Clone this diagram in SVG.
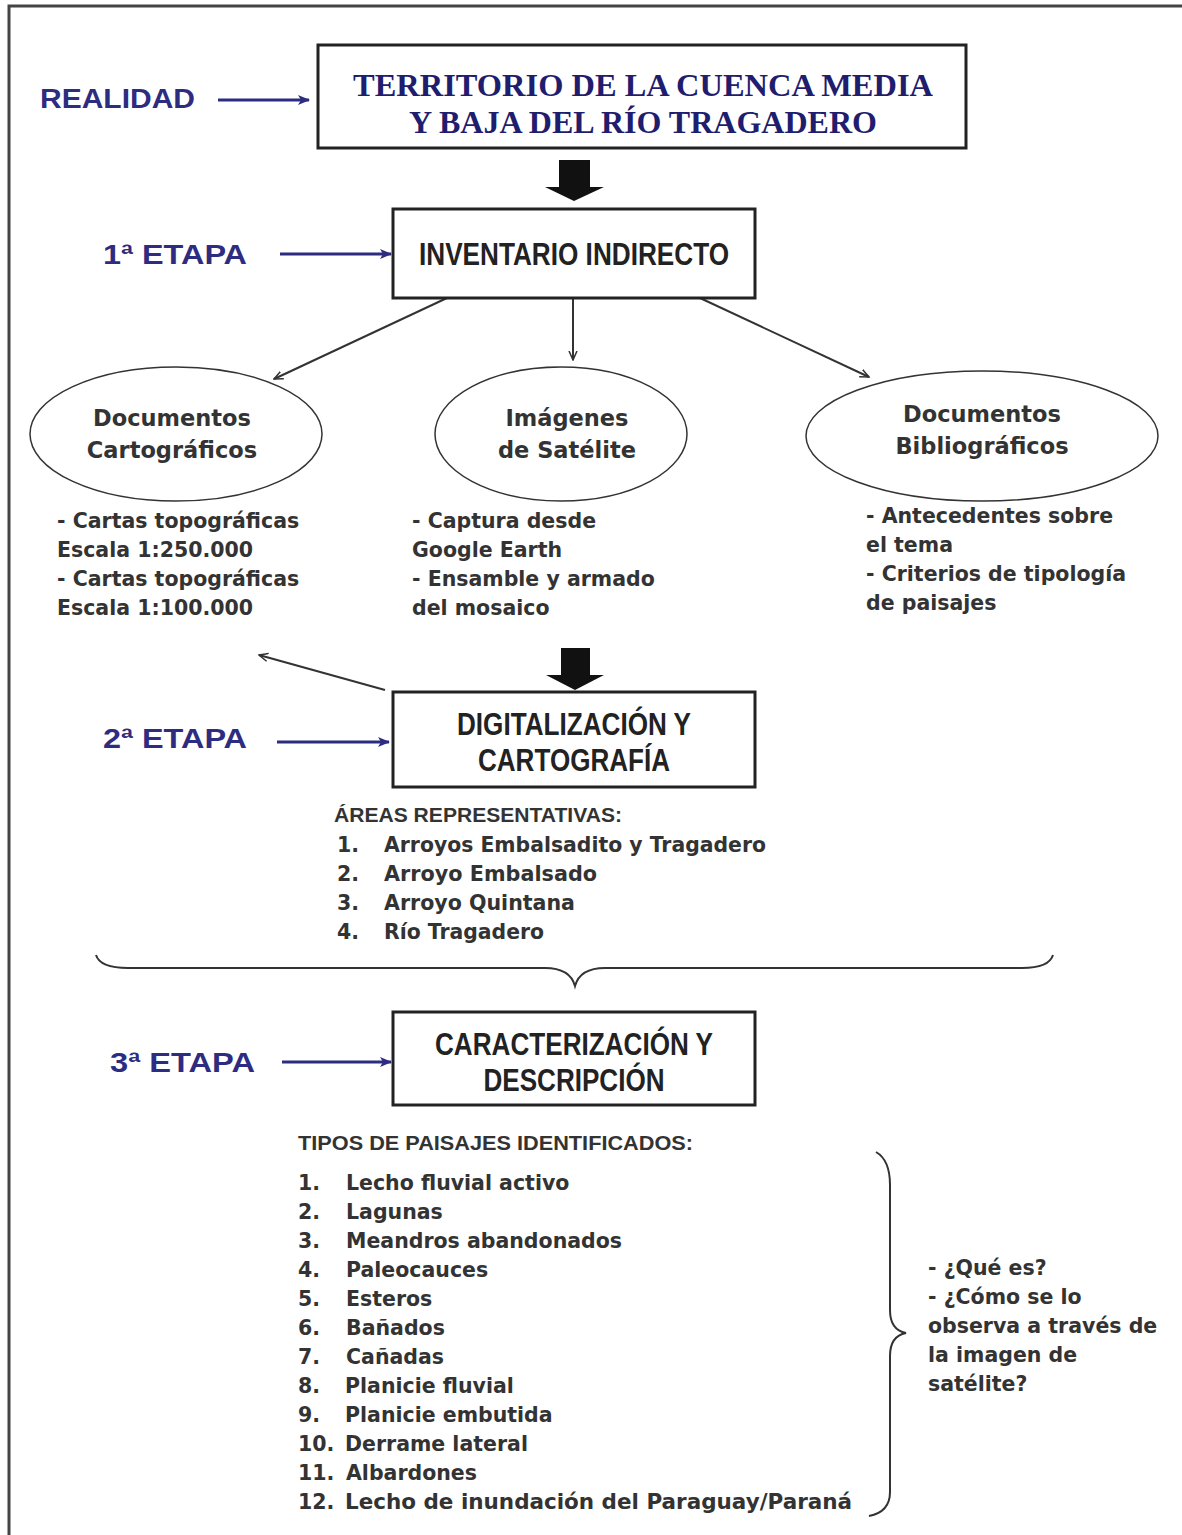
<svg xmlns="http://www.w3.org/2000/svg" width="1182" height="1535" viewBox="0 0 1182 1535">
<defs>
<style>
.frame{fill:none;stroke:#444;stroke-width:3}
.box{fill:#fff;stroke:#222;stroke-width:3}
.ell{fill:#fff;stroke:#333;stroke-width:1.5}
.blk{fill:#111}
.nav{stroke:#2e2c80;stroke-width:3;fill:none}
.thin{stroke:#333;stroke-width:2;fill:none}
.brace{stroke:#333;stroke-width:2;fill:none}
.stage{font-family:"Liberation Sans",Arial,sans-serif;font-weight:bold;font-size:27px;fill:#2e2c80}
.title{font-family:"Liberation Serif","Times New Roman",serif;font-weight:bold;font-size:32px;fill:#1f1d6e;text-anchor:middle}
.boxt{font-family:"Liberation Sans",Arial,sans-serif;font-weight:bold;font-size:31px;fill:#222;text-anchor:middle}
.ellt{font-family:"DejaVu Sans","Liberation Sans",sans-serif;font-weight:bold;font-size:22.5px;fill:#333;text-anchor:middle}
.lst{font-family:"DejaVu Sans","Liberation Sans",sans-serif;font-weight:bold;font-size:20.5px;fill:#333}
.hdr{font-family:"Liberation Sans",Arial,sans-serif;font-weight:bold;font-size:21px;fill:#333}
</style>
<marker id="nvh" viewBox="0 0 12 10" refX="11" refY="5" markerWidth="12" markerHeight="10" markerUnits="userSpaceOnUse" orient="auto">
<path d="M0,0 L12,5 L0,10 L3,5 Z" fill="#2e2c80"/>
</marker>
<marker id="th" viewBox="0 0 10 10" refX="9" refY="5" markerWidth="10" markerHeight="10" markerUnits="userSpaceOnUse" orient="auto">
<path d="M0,1 L9,5 L0,9" fill="none" stroke="#333" stroke-width="1.5"/>
</marker>
</defs>
<rect width="1182" height="1535" fill="#fff"/>
<path class="frame" d="M9,1535 L9,6 L1182,6"/>

<g id="connectors">
<line class="nav" x1="218" y1="100" x2="309" y2="100" marker-end="url(#nvh)"/>
<line class="nav" x1="280" y1="254" x2="391" y2="254" marker-end="url(#nvh)"/>
<line class="nav" x1="277" y1="742" x2="389" y2="742" marker-end="url(#nvh)"/>
<line class="nav" x1="282" y1="1062" x2="391" y2="1062" marker-end="url(#nvh)"/>
<path class="blk" d="M559,160 L590,160 L590,187 L604,187 L574,201 L545,187 L559,187 Z"/>
<path class="blk" d="M561,648 L590,648 L590,675 L604,675 L575,690 L546,675 L561,675 Z"/>
<line class="thin" x1="447" y1="298" x2="274" y2="379" marker-end="url(#th)"/>
<line class="thin" x1="573" y1="298" x2="573" y2="360" marker-end="url(#th)"/>
<line class="thin" x1="700" y1="298" x2="869" y2="377" marker-end="url(#th)"/>
<line class="thin" x1="385" y1="690" x2="259" y2="655" marker-end="url(#th)"/>
<path class="brace" d="M96,955 Q100,968 128,968 L545,968 Q570,968 575,986 Q580,968 605,968 L1022,968 Q1049,968 1053,955"/>
<path class="brace" d="M876,1152 Q890,1160 890,1185 L890,1310 Q890,1330 906,1333 Q890,1336 890,1356 L890,1492 Q890,1512 869,1516"/>
</g>

<g id="realidad"><text class="stage" x="40" y="108" textLength="155" lengthAdjust="spacingAndGlyphs">REALIDAD</text></g>
<g id="territorio">
<rect class="box" x="318" y="45" width="648" height="103"/>
<text class="title" x="643" y="96" textLength="580" lengthAdjust="spacingAndGlyphs">TERRITORIO DE LA CUENCA MEDIA</text>
<text class="title" x="643" y="133" textLength="468" lengthAdjust="spacingAndGlyphs">Y BAJA DEL RÍO TRAGADERO</text>
</g>

<g id="etapa1"><text class="stage" x="103" y="264" textLength="144" lengthAdjust="spacingAndGlyphs">1ª  ETAPA</text></g>
<g id="inventario">
<rect class="box" x="393" y="209" width="362" height="89"/>
<text class="boxt" x="574" y="265" textLength="310" lengthAdjust="spacingAndGlyphs">INVENTARIO INDIRECTO</text>
</g>

<g id="doc-carto">
<ellipse class="ell" cx="176" cy="434" rx="146" ry="67"/>
<text class="ellt" x="172" y="426">Documentos</text>
<text class="ellt" x="172" y="458">Cartográficos</text>
</g>
<g id="imagenes">
<ellipse class="ell" cx="561" cy="434" rx="126" ry="67"/>
<text class="ellt" x="567" y="426">Imágenes</text>
<text class="ellt" x="567" y="458">de Satélite</text>
</g>
<g id="doc-biblio">
<ellipse class="ell" cx="982" cy="436" rx="176" ry="65"/>
<text class="ellt" x="982" y="422">Documentos</text>
<text class="ellt" x="982" y="454">Bibliográficos</text>
</g>

<g id="list-carto">
<text class="lst" x="57" y="528">- Cartas topográficas</text>
<text class="lst" x="57" y="557">Escala 1:250.000</text>
<text class="lst" x="57" y="586">- Cartas topográficas</text>
<text class="lst" x="57" y="615">Escala 1:100.000</text>
</g>
<g id="list-imagenes">
<text class="lst" x="412" y="528">- Captura desde</text>
<text class="lst" x="412" y="557">Google Earth</text>
<text class="lst" x="412" y="586">- Ensamble y armado</text>
<text class="lst" x="412" y="615">del mosaico</text>
</g>
<g id="list-biblio">
<text class="lst" x="866" y="523">- Antecedentes sobre</text>
<text class="lst" x="866" y="552">el tema</text>
<text class="lst" x="866" y="581">- Criterios de tipología</text>
<text class="lst" x="866" y="610">de paisajes</text>
</g>

<g id="etapa2"><text class="stage" x="103" y="748" textLength="144" lengthAdjust="spacingAndGlyphs">2ª  ETAPA</text></g>
<g id="digitalizacion">
<rect class="box" x="393" y="692" width="362" height="95"/>
<text class="boxt" x="574" y="735" textLength="234" lengthAdjust="spacingAndGlyphs">DIGITALIZACIÓN Y</text>
<text class="boxt" x="574" y="771" textLength="192" lengthAdjust="spacingAndGlyphs">CARTOGRAFÍA</text>
</g>

<g id="areas">
<text class="hdr" x="334" y="822" textLength="288" lengthAdjust="spacingAndGlyphs">ÁREAS REPRESENTATIVAS:</text>
<text class="lst" x="337" y="852">1.</text><text class="lst" x="384" y="852" textLength="382" lengthAdjust="spacingAndGlyphs">Arroyos Embalsadito y Tragadero</text>
<text class="lst" x="337" y="881">2.</text><text class="lst" x="384" y="881" textLength="213" lengthAdjust="spacingAndGlyphs">Arroyo Embalsado</text>
<text class="lst" x="337" y="910">3.</text><text class="lst" x="384" y="910" textLength="191" lengthAdjust="spacingAndGlyphs">Arroyo Quintana</text>
<text class="lst" x="337" y="939">4.</text><text class="lst" x="384" y="939" textLength="160" lengthAdjust="spacingAndGlyphs">Río Tragadero</text>
</g>

<g id="etapa3"><text class="stage" x="110" y="1072" textLength="145" lengthAdjust="spacingAndGlyphs">3ª  ETAPA</text></g>
<g id="caracterizacion">
<rect class="box" x="393" y="1012" width="362" height="93"/>
<text class="boxt" x="574" y="1055" textLength="278" lengthAdjust="spacingAndGlyphs">CARACTERIZACIÓN Y</text>
<text class="boxt" x="574" y="1091" textLength="181" lengthAdjust="spacingAndGlyphs">DESCRIPCIÓN</text>
</g>

<g id="tipos">
<text class="hdr" x="298" y="1150" textLength="395" lengthAdjust="spacingAndGlyphs">TIPOS DE PAISAJES IDENTIFICADOS:</text>
<text class="lst" x="298" y="1190">1.</text><text class="lst" x="346" y="1190">Lecho fluvial activo</text>
<text class="lst" x="298" y="1219">2.</text><text class="lst" x="346" y="1219">Lagunas</text>
<text class="lst" x="298" y="1248">3.</text><text class="lst" x="346" y="1248">Meandros abandonados</text>
<text class="lst" x="298" y="1277">4.</text><text class="lst" x="346" y="1277">Paleocauces</text>
<text class="lst" x="298" y="1306">5.</text><text class="lst" x="346" y="1306">Esteros</text>
<text class="lst" x="298" y="1335">6.</text><text class="lst" x="346" y="1335">Bañados</text>
<text class="lst" x="298" y="1364">7.</text><text class="lst" x="346" y="1364">Cañadas</text>
<text class="lst" x="298" y="1393">8.</text><text class="lst" x="345" y="1393">Planicie fluvial</text>
<text class="lst" x="298" y="1422">9.</text><text class="lst" x="345" y="1422">Planicie embutida</text>
<text class="lst" x="298" y="1451">10.</text><text class="lst" x="345" y="1451">Derrame lateral</text>
<text class="lst" x="298" y="1480">11.</text><text class="lst" x="346" y="1480">Albardones</text>
<text class="lst" x="298" y="1509">12.</text><text class="lst" x="345" y="1509" textLength="507" lengthAdjust="spacingAndGlyphs">Lecho de inundación  del Paraguay/Paraná</text>
</g>

<g id="preguntas">
<text class="lst" x="928" y="1275">- ¿Qué es?</text>
<text class="lst" x="928" y="1304">- ¿Cómo se lo</text>
<text class="lst" x="928" y="1333">observa a través de</text>
<text class="lst" x="928" y="1362">la imagen de</text>
<text class="lst" x="928" y="1391">satélite?</text>
</g>
</svg>
